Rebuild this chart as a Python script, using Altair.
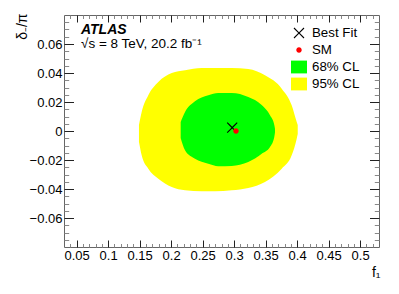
import math
import altair as alt
import pandas as pd

# ---- data ----
# 95% CL region: f1 columns with upper / lower delta/pi edge
cl95_f1 = [0.1490, 0.1533, 0.1638, 0.1797, 0.2010, 0.2221, 0.2486, 0.2697,
           0.2962, 0.3225, 0.3490, 0.3756, 0.3914, 0.3994, 0.4010]
cl95_hi = [0.0041, 0.0131, 0.0246, 0.0338, 0.0400, 0.0419, 0.0434, 0.0434,
           0.0434, 0.0428, 0.0384, 0.0292, 0.0177, 0.0062, 0.0041]
cl95_lo = [-0.0076, -0.0168, -0.0260, -0.0329, -0.0386, -0.0409, -0.0416, -0.0416,
           -0.0409, -0.0393, -0.0352, -0.0260, -0.0168, -0.0053, -0.0021]

# 68% CL region
cl68_f1 = [0.2152, 0.2221, 0.2379, 0.2590, 0.2749, 0.2962, 0.3225, 0.3438,
           0.3570, 0.3638, 0.3649]
cl68_hi = [0.0062, 0.0131, 0.0205, 0.0246, 0.0262, 0.0262, 0.0234, 0.0179,
           0.0108, 0.0041, 0.0016]
cl68_lo = [-0.0048, -0.0133, -0.0191, -0.0226, -0.0243, -0.0241, -0.0214, -0.0157,
           -0.0110, -0.0041, -0.0010]

point_labels = ["Best Fit", "SM"]
point_f1 = [0.297, 0.303]
point_delta = [0.0023, 0.0]

legend_labels = ["Best Fit", "SM", "68% CL", "95% CL"]
legend_colors = ["#000000", "#ff0000", "#00ff00", "#ffff00"]

x_major = [0.05, 0.1, 0.15, 0.2, 0.25, 0.3, 0.35, 0.4, 0.45, 0.5]
y_major = [-0.06, -0.04, -0.02, 0, 0.02, 0.04, 0.06]
x_domain = [0.03, 0.53]
y_domain = [-0.08, 0.08]

atlas_label = ["ATLAS"]
energy_label = ["√s = 8 TeV, 20.2 fb⁻¹"]
x_title = "f₁"
y_title = "δ₋/π"

# ---- layout / style ----
W, H = 315, 232
FONT = "Liberation Sans"

x_minor = [round(0.03 + 0.01 * i, 3) for i in range(1, 50)]
x_minor = [v for v in x_minor if all(abs(v - m) > 1e-9 for m in x_major)]
y_minor = [round(-0.08 + 0.005 * i, 4) for i in range(1, 32)]
y_minor = [v for v in y_minor if all(abs(v - m) > 1e-9 for m in y_major)]


def x_path(a=0.625, h=0.07):
    L = a * math.sqrt(2)
    pts = [(-h, -L), (h, -L), (h, -h), (L, -h), (L, h), (h, h), (h, L), (-h, L),
           (-h, h), (-L, h), (-L, -h), (-h, -h)]
    r = [((x - y) / math.sqrt(2), (x + y) / math.sqrt(2)) for x, y in pts]
    return "M" + "L".join(f"{x:.3f},{y:.3f}" for x, y in r) + "Z"


circle_path = "M0.34,0A0.34,0.34,0,1,1,-0.34,0A0.34,0.34,0,1,1,0.34,0Z"
square_path = "M-1,-0.8H1V0.8H-1Z"
shape_range = [x_path(), circle_path, square_path, square_path]

xs = alt.Scale(domain=x_domain, nice=False, zero=False)
ys = alt.Scale(domain=y_domain, nice=False, zero=False)

common = dict(domain=False, grid=False, title=None, zindex=1)


def tick_axis(orient, offset, values, size, color):
    return alt.Axis(orient=orient, offset=offset, values=values, labels=False,
                    tickSize=size, tickColor=color, tickWidth=1, **common)


ax_x_lab = alt.Axis(orient="bottom", values=x_major, format="~g", ticks=False, tickSize=0,
                    labelPadding=2, labelFont=FONT, labelFontSize=13, labelColor="black",
                    domain=False, grid=False, title=x_title, titleX=316, titleY=29,
                    titleAlign="right", titleBaseline="alphabetic", titleFont=FONT,
                    titleFontSize=14, titleFontWeight="normal", titleColor="black")
ax_y_lab = alt.Axis(orient="left", values=y_major, format="~g", ticks=False, tickSize=0,
                    labelPadding=2, labelFont=FONT, labelFontSize=13, labelColor="black",
                    domain=False, grid=False, title=y_title, titleX=-38, titleY=-2,
                    titleAngle=270, titleAlign="right", titleBaseline="alphabetic",
                    titleFont=FONT, titleFontSize=14, titleFontWeight="normal",
                    titleColor="black")

MAJ, MIN = "#222222", "#888888"
ax_xb_maj = tick_axis("top", -H, x_major, 7, MAJ)
ax_xb_min = tick_axis("top", -H, x_minor, 3.5, MIN)
ax_xt_maj = tick_axis("bottom", -H, x_major, 7, MAJ)
ax_xt_min = tick_axis("bottom", -H, x_minor, 3.5, MIN)
ax_yl_maj = tick_axis("right", -W, y_major, 9.5, MAJ)
ax_yl_min = tick_axis("right", -W, y_minor, 4.7, MIN)
ax_yr_maj = tick_axis("left", -W, y_major, 9.5, MAJ)
ax_yr_min = tick_axis("left", -W, y_minor, 4.7, MIN)

df95 = pd.DataFrame({"f1": cl95_f1, "hi": cl95_hi, "lo": cl95_lo})
df68 = pd.DataFrame({"f1": cl68_f1, "hi": cl68_hi, "lo": cl68_lo})
dfp = pd.DataFrame({"f1": point_f1, "delta": point_delta, "label": point_labels})

legend_opts = dict(title=None, orient="none", legendX=227, legendY=10,
                   symbolSize=256, symbolStrokeWidth=0,
                   labelFont=FONT, labelFontSize=13.3, labelColor="black",
                   labelOffset=5, rowPadding=2, padding=0)

yellow = alt.Chart(df95).mark_area(color="#ffff00", interpolate="monotone", opacity=1).encode(
    x=alt.X("f1:Q", scale=xs, axis=ax_x_lab),
    y=alt.Y("hi:Q", scale=ys, axis=ax_y_lab),
    y2="lo:Q",
)
green = alt.Chart(df68).mark_area(color="#00ff00", interpolate="monotone", opacity=1).encode(
    x=alt.X("f1:Q", scale=xs, axis=ax_xb_maj),
    y=alt.Y("hi:Q", scale=ys, axis=ax_yl_maj),
    y2="lo:Q",
)
points = alt.Chart(dfp).mark_point(filled=True, opacity=1, size=256, strokeWidth=0).encode(
    x=alt.X("f1:Q", scale=xs, axis=ax_xb_min),
    y=alt.Y("delta:Q", scale=ys, axis=ax_yl_min),
    color=alt.Color("label:N", scale=alt.Scale(domain=legend_labels, range=legend_colors),
                    legend=alt.Legend(**legend_opts)),
    shape=alt.Shape("label:N", scale=alt.Scale(domain=legend_labels, range=shape_range),
                    legend=alt.Legend(**legend_opts)),
)
dummy1 = alt.Chart(dfp).mark_point(opacity=0).encode(
    x=alt.X("f1:Q", scale=xs, axis=ax_xt_maj),
    y=alt.Y("delta:Q", scale=ys, axis=ax_yr_maj),
)
dummy2 = alt.Chart(dfp).mark_point(opacity=0).encode(
    x=alt.X("f1:Q", scale=xs, axis=ax_xt_min),
    y=alt.Y("delta:Q", scale=ys, axis=ax_yr_min),
)
atlas = alt.Chart(pd.DataFrame({"t": atlas_label})).mark_text(
    align="left", baseline="alphabetic", font=FONT, fontSize=14, fontWeight="bold",
    fontStyle="italic", color="black").encode(
    x=alt.value(17), y=alt.value(19), text="t:N")
energy = alt.Chart(pd.DataFrame({"t": energy_label})).mark_text(
    align="left", baseline="alphabetic", font=FONT, fontSize=13.5, color="black").encode(
    x=alt.value(17), y=alt.value(33), text="t:N")

chart = alt.layer(yellow, green, points, dummy1, dummy2, atlas, energy).resolve_axis(
    x="independent", y="independent"
).properties(
    width=W, height=H,
    padding={"left": 56, "top": 7, "right": 12, "bottom": 39},
    autosize=alt.AutoSizeParams(type="none"),
    background="white",
).configure_view(stroke="#666666", strokeWidth=1)

chart.save("out.html", embed_options={"renderer": "svg", "actions": False})
